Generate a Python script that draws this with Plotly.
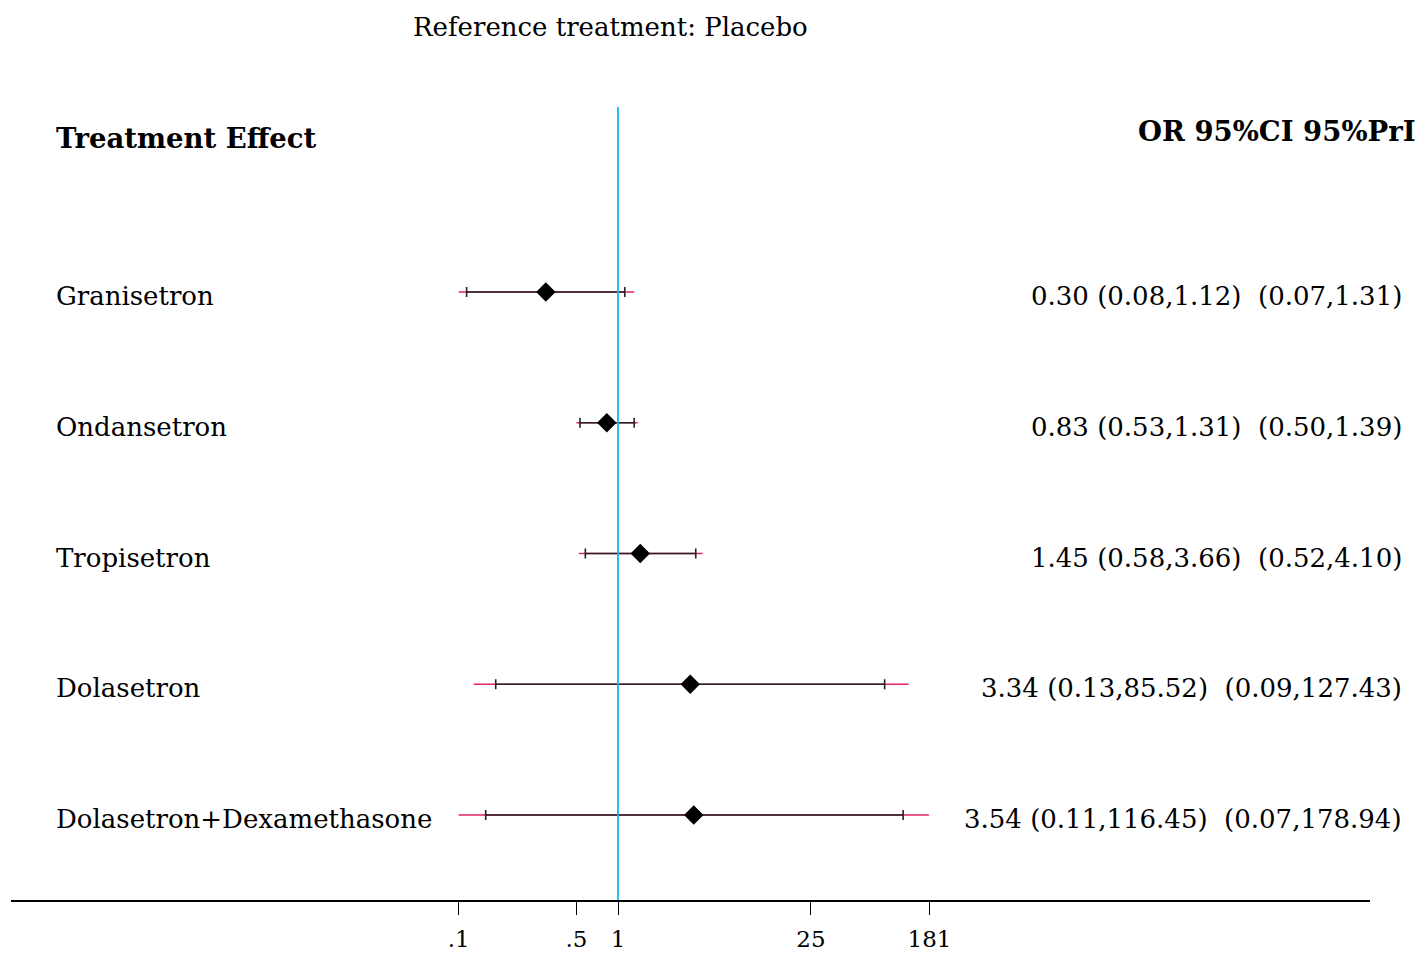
import plotly.graph_objects as go

treatments = ["Granisetron", "Ondansetron", "Tropisetron", "Dolasetron", "Dolasetron+Dexamethasone"]
or_est = [0.30, 0.83, 1.45, 3.34, 3.54]
ci_lo = [0.08, 0.53, 0.58, 0.13, 0.11]
ci_hi = [1.12, 1.31, 3.66, 85.52, 116.45]
pri_lo = [0.07, 0.50, 0.52, 0.09, 0.07]
pri_hi = [1.31, 1.39, 4.10, 127.43, 178.94]
tick_vals = [0.07, 0.5, 1, 25, 181]
tick_text = [".1", ".5", "1", "25", "181"]

W, H = 1422, 955
# plot area in screen pixels
PX0, PX1, PY0, PY1 = 11, 1370, 107, 900
L, R = PX0, W - PX1
T, B = PY0, H - PY1
PW, PH = PX1 - PX0, PY1 - PY0

def sx(x):
    return (x - PX0) / PW

def sy(y):
    return (PY1 - y) / PH

FONT = "Georgia, 'DejaVu Serif', serif"
FS = 26
rows = list(range(len(treatments)))

fig = go.Figure()

# prediction intervals (red)
xs, ys = [], []
for i in rows:
    xs += [pri_lo[i], pri_hi[i], None]
    ys += [i, i, None]
fig.add_trace(go.Scatter(x=xs, y=ys, mode="lines",
                         line=dict(color="#e0245e", width=1.6),
                         hoverinfo="skip", showlegend=False))

# confidence intervals + estimates
fig.add_trace(go.Scatter(
    x=or_est, y=rows, mode="markers",
    marker=dict(symbol="diamond", size=15, color="black"),
    error_x=dict(type="data", symmetric=False,
                 array=[h - e for h, e in zip(ci_hi, or_est)],
                 arrayminus=[e - l for e, l in zip(or_est, ci_lo)],
                 color="#222222", thickness=1.6, width=5),
    showlegend=False))

ppd = 138.0  # pixels per decade
X1 = 618     # screen x of OR = 1
xr = [(PX0 - X1) / ppd, (PX1 - X1) / ppd]
row_px0, row_step = 292, 130.75
yr = [(PY1 - row_px0) / row_step, (PY0 - row_px0) / row_step]

fig.update_layout(
    width=W, height=H,
    margin=dict(l=L, r=R, t=T, b=B, autoexpand=False),
    paper_bgcolor="white", plot_bgcolor="white",
    font=dict(family=FONT, color="black"),
    xaxis=dict(type="log", range=xr, tickvals=tick_vals, ticktext=tick_text,
               showgrid=False, zeroline=False, showline=True, linecolor="black",
               linewidth=1.5, ticks="outside", ticklen=13, tickwidth=1,
               tickcolor="black", tickfont=dict(size=23, family=FONT),
               ticklabelstandoff=5, automargin=False),
    yaxis=dict(range=yr, visible=False, showgrid=False, zeroline=False,
               automargin=False),
)

# reference line at 1
fig.add_shape(type="line", xref="x", yref="paper", x0=1, x1=1, y0=0, y1=1,
              line=dict(color="#12b8ef", width=1.8), layer="above")

ann = []
ann.append(dict(text="Reference treatment: Placebo", x=sx(610), y=sy(27),
                xref="paper", yref="paper", xanchor="center", yanchor="middle",
                showarrow=False, font=dict(size=FS, family=FONT)))
ann.append(dict(text="<b>Treatment Effect</b>", x=sx(54), y=sy(138),
                xref="paper", yref="paper", xanchor="left", yanchor="middle",
                showarrow=False, font=dict(size=27.5, family=FONT)))
ann.append(dict(text="<b>OR 95%CI 95%PrI</b>", x=sx(1418), y=sy(131),
                xref="paper", yref="paper", xanchor="right", yanchor="middle",
                showarrow=False, font=dict(size=27.5, family=FONT)))
for i in rows:
    ann.append(dict(text=treatments[i], x=sx(54), y=i, xref="paper", yref="y",
                    xanchor="left", yanchor="middle", yshift=-4,
                    showarrow=False, font=dict(size=FS, family=FONT)))
    label = (f"{or_est[i]:.2f} ({ci_lo[i]:.2f},{ci_hi[i]:.2f})\u00a0\u00a0"
             f"({pri_lo[i]:.2f},{pri_hi[i]:.2f})")
    ann.append(dict(text=label, x=sx(1404), y=i, xref="paper", yref="y",
                    xanchor="right", yanchor="middle", yshift=-4,
                    showarrow=False, font=dict(size=FS, family=FONT)))
fig.update_layout(annotations=ann)

fig.write_html("out.html",
               config={"displayModeBar": False},
               post_script="document.body.style.margin='0';document.body.style.overflow='hidden';")
